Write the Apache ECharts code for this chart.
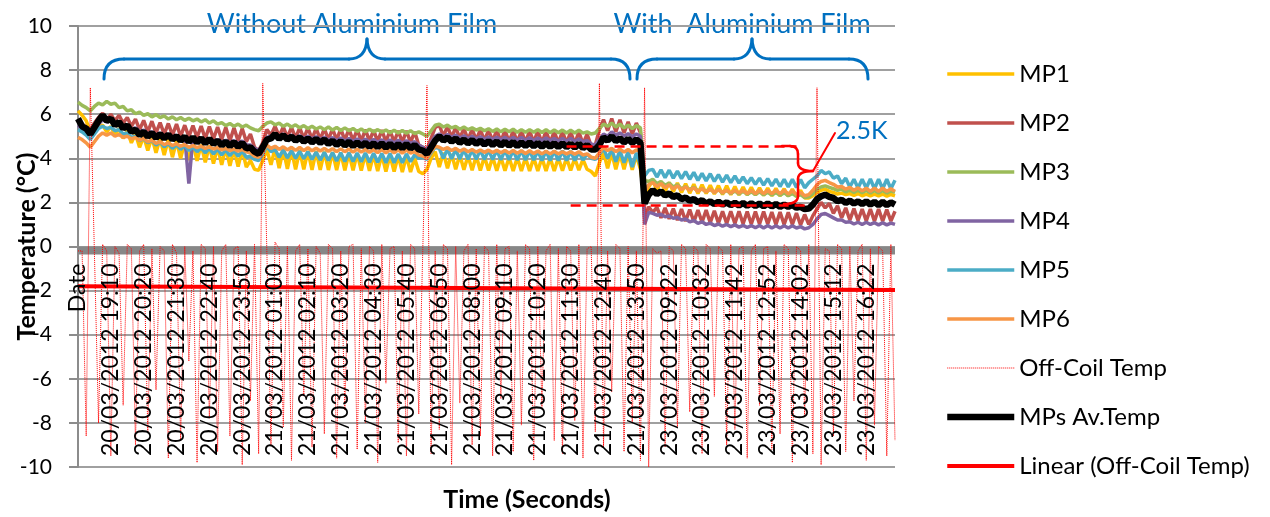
<!DOCTYPE html>
<html><head><meta charset="utf-8">
<script src="https://cdn.jsdelivr.net/npm/echarts@6/dist/echarts.min.js"></script>
<style>html,body{margin:0;padding:0;background:#fff}#c{width:1270px;height:517px}</style>
</head><body><div id="c"></div>
<script>
const tickLabels = ['Date','20/03/2012 19:10','20/03/2012 20:20','20/03/2012 21:30','20/03/2012 22:40','20/03/2012 23:50',
'21/03/2012 01:00','21/03/2012 02:10','21/03/2012 03:20','21/03/2012 04:30','21/03/2012 05:40','21/03/2012 06:50',
'21/03/2012 08:00','21/03/2012 09:10','21/03/2012 10:20','21/03/2012 11:30','21/03/2012 12:40','21/03/2012 13:50',
'23/03/2012 09:22','23/03/2012 10:32','23/03/2012 11:42','23/03/2012 12:52','23/03/2012 14:02','23/03/2012 15:12','23/03/2012 16:22'];
const labelEvery = 8;

const mp1 = [6.15,5.95,5.7,5.2,5.3,5.45,5.5,5.2,5.45,5.05,
5.35,4.9,5.25,4.7,5.1,4.5,5.0,4.35,4.95,4.25,
4.9,4.15,4.85,4.05,4.78,4.0,4.72,3.92,4.68,3.88,
4.62,3.82,4.58,3.76,4.52,3.7,4.48,3.66,4.42,3.62,
4.4,3.6,3.9,3.5,3.45,3.9,4.4,3.7,4.45,3.55,
4.4,3.52,4.38,3.5,4.36,3.5,4.34,3.48,4.32,3.48,
4.3,3.47,4.28,3.46,4.26,3.45,4.24,3.45,4.22,3.44,
4.2,3.43,4.18,3.42,4.16,3.4,4.14,3.4,4.12,3.38,
4.1,3.38,4.0,3.4,3.3,3.5,4.0,4.3,3.6,4.25,
3.55,4.2,3.5,4.15,3.48,4.12,3.46,4.1,3.45,4.08,
3.45,4.06,3.44,4.05,3.44,4.04,3.43,4.04,3.43,4.03,
3.42,4.03,3.42,4.02,3.42,4.02,3.42,4.02,3.44,4.02,
3.45,4.0,3.46,3.95,3.5,3.4,3.2,3.8,4.3,3.55,
4.25,3.5,4.22,3.5,4.2,3.48,4.15,3.5,2.2,2.7,
3.0,2.55,2.95,2.5,2.9,2.48,2.88,2.45,2.85,2.42,
2.82,2.4,2.8,2.4,2.78,2.38,2.76,2.36,2.75,2.35,
2.72,2.34,2.7,2.34,2.68,2.33,2.66,2.32,2.65,2.3,
2.64,2.3,2.62,2.28,2.6,2.26,2.55,2.2,2.2,2.3,
2.45,2.55,2.6,2.5,2.45,2.38,2.42,2.35,2.4,2.32,
2.4,2.3,2.38,2.3,2.38,2.3,2.38,2.28,2.36,2.3];

const mp2 = [5.7,5.55,5.4,5.3,5.6,5.85,6.05,5.75,6.0,5.7,
5.95,5.6,5.85,5.45,5.78,5.3,5.72,5.2,5.68,5.15,
5.62,5.1,5.58,5.05,5.55,5.0,5.5,4.98,5.48,4.95,
5.46,4.9,5.44,4.88,5.42,4.85,5.4,4.8,5.38,4.78,
5.35,4.75,5.1,4.5,4.35,4.7,5.3,5.05,5.45,5.0,
5.42,4.95,5.4,4.92,5.38,4.9,5.38,4.88,5.36,4.86,
5.35,4.85,5.34,4.84,5.33,4.82,5.32,4.8,5.3,4.78,
5.3,4.78,5.28,4.76,5.28,4.75,5.26,4.74,5.25,4.72,
5.25,4.72,5.2,4.6,4.5,4.4,4.9,5.4,5.5,5.0,
5.45,4.95,5.4,4.9,5.35,4.85,5.32,4.82,5.3,4.8,
5.28,4.78,5.28,4.76,5.27,4.75,5.26,4.74,5.25,4.72,
5.25,4.72,5.24,4.7,5.24,4.7,5.22,4.68,5.22,4.68,
5.2,4.66,5.2,4.65,5.1,4.55,4.6,5.3,5.75,5.25,
5.8,5.2,5.75,5.15,5.65,5.1,5.6,5.15,1.3,1.8,
1.55,1.78,1.3,1.75,1.25,1.72,1.2,1.7,1.15,1.68,
1.12,1.65,1.1,1.65,1.08,1.62,1.06,1.6,1.05,1.6,
1.04,1.6,1.03,1.58,1.02,1.58,1.02,1.58,1.02,1.56,
1.0,1.56,1.0,1.55,1.0,1.52,0.98,1.45,1.0,1.4,
1.7,2.0,1.75,1.95,1.5,1.85,1.3,1.75,1.2,1.72,
1.18,1.7,1.16,1.7,1.15,1.7,1.15,1.68,1.15,1.6];

const mp3 = [6.55,6.4,6.3,6.15,6.35,6.5,6.42,6.58,6.45,6.5,
6.3,6.35,6.15,6.2,6.02,6.1,5.95,6.02,5.88,5.98,
5.85,5.92,5.78,5.88,5.75,5.85,5.72,5.82,5.7,5.78,
5.65,5.75,5.6,5.7,5.55,5.62,5.48,5.58,5.45,5.55,
5.42,5.5,5.38,5.3,5.25,5.45,5.6,5.65,5.52,5.6,
5.45,5.55,5.42,5.52,5.38,5.48,5.35,5.45,5.33,5.42,
5.3,5.42,5.28,5.4,5.26,5.38,5.25,5.35,5.22,5.33,
5.2,5.32,5.2,5.3,5.18,5.28,5.16,5.27,5.15,5.26,
5.14,5.25,5.12,5.2,5.1,5.0,5.25,5.5,5.55,5.42,
5.5,5.38,5.45,5.32,5.42,5.3,5.38,5.28,5.36,5.25,
5.34,5.22,5.33,5.2,5.32,5.2,5.32,5.18,5.3,5.18,
5.3,5.18,5.3,5.17,5.3,5.16,5.28,5.16,5.28,5.15,
5.27,5.15,5.27,5.14,5.2,5.1,5.15,5.35,5.55,5.45,
5.6,5.42,5.55,5.38,5.5,5.35,5.48,5.38,3.0,2.95,
3.05,2.85,2.95,2.78,2.88,2.7,2.8,2.62,2.72,2.58,
2.68,2.52,2.62,2.48,2.6,2.45,2.58,2.42,2.55,2.4,
2.52,2.38,2.5,2.36,2.48,2.35,2.48,2.34,2.46,2.33,
2.45,2.32,2.44,2.3,2.4,2.28,2.35,2.22,2.25,2.4,
2.6,2.7,2.75,2.68,2.62,2.55,2.6,2.48,2.56,2.45,
2.55,2.44,2.55,2.43,2.54,2.42,2.54,2.42,2.52,2.45];

const mp4 = [5.5,5.35,5.2,5.1,5.3,5.55,5.75,5.65,5.7,5.55,
5.6,5.45,5.5,5.3,5.38,5.2,5.28,5.1,5.2,5.05,
5.15,5.0,5.1,4.95,5.05,4.9,4.98,2.85,4.95,4.85,
4.92,4.8,4.9,4.75,4.85,4.72,4.82,4.7,4.8,4.68,
4.78,4.62,4.6,4.45,4.35,4.6,4.95,5.0,5.1,4.98,
5.1,4.95,5.05,4.92,5.02,4.9,5.0,4.88,4.98,4.85,
4.96,4.82,4.94,4.8,4.92,4.78,4.9,4.76,4.88,4.75,
4.86,4.74,4.85,4.72,4.84,4.7,4.83,4.7,4.82,4.68,
4.8,4.68,4.75,4.6,4.5,4.4,4.7,5.0,5.1,4.98,
5.08,4.95,5.05,4.92,5.02,4.9,5.0,4.88,4.98,4.86,
4.97,4.85,4.96,4.84,4.95,4.83,4.95,4.82,4.94,4.82,
4.93,4.8,4.92,4.8,4.92,4.8,4.9,4.78,4.9,4.78,
4.9,4.76,4.88,4.75,4.8,4.65,4.6,4.85,5.1,5.0,
5.2,5.05,5.15,5.0,5.12,4.98,5.1,5.0,1.0,1.55,
1.5,1.42,1.45,1.35,1.38,1.28,1.32,1.2,1.25,1.12,
1.18,1.05,1.12,1.0,1.06,0.95,1.02,0.92,1.0,0.9,
0.98,0.88,0.96,0.86,0.95,0.85,0.95,0.84,0.95,0.84,
0.94,0.84,0.94,0.84,0.94,0.84,0.9,0.8,0.85,1.0,
1.25,1.45,1.5,1.4,1.3,1.2,1.2,1.1,1.12,1.02,
1.1,1.0,1.1,1.0,1.08,0.98,1.08,0.98,1.06,1.0];

const mp5 = [5.3,5.2,5.05,4.85,5.1,5.35,5.45,5.35,5.4,5.25,
5.3,5.1,5.15,4.95,5.0,4.8,4.9,4.7,4.82,4.6,
4.75,4.52,4.68,4.45,4.62,4.4,4.58,4.35,4.52,4.3,
4.48,4.25,4.45,4.2,4.42,4.15,4.38,4.12,4.35,4.1,
4.32,4.05,4.1,3.95,3.9,4.2,4.55,4.3,4.4,4.05,
4.38,4.02,4.35,4.0,4.32,3.98,4.3,3.95,4.28,3.92,
4.27,3.9,4.26,3.88,4.25,3.86,4.25,3.85,4.24,3.84,
4.24,3.82,4.23,3.82,4.22,3.8,4.22,3.8,4.2,3.8,
4.2,3.85,4.15,4.0,4.05,3.95,4.25,4.5,4.45,4.0,
4.42,3.98,4.4,3.96,4.4,3.95,4.38,3.95,4.38,3.94,
4.38,3.94,4.37,3.93,4.37,3.93,4.36,3.92,4.36,3.92,
4.35,3.92,4.35,3.9,4.35,3.9,4.34,3.9,4.34,3.9,
4.33,3.9,4.3,3.92,4.2,4.0,3.95,4.2,4.45,4.0,
4.4,3.85,4.35,3.8,4.3,3.6,4.25,3.7,3.2,3.45,
3.5,3.15,3.48,3.12,3.46,3.1,3.42,3.08,3.4,3.05,
3.36,3.0,3.32,2.98,3.3,2.95,3.26,2.92,3.24,2.9,
3.2,2.88,3.15,2.85,3.12,2.82,3.1,2.78,3.08,2.75,
3.06,2.72,3.05,2.7,3.05,2.68,3.04,2.66,2.9,3.05,
3.2,3.45,3.3,3.38,3.1,3.2,2.85,3.1,2.7,3.05,
2.65,3.05,2.65,3.06,2.62,3.05,2.62,3.05,2.62,3.0];

const mp6 = [4.95,4.85,4.7,4.5,4.75,5.0,5.15,5.05,5.15,5.0,
5.08,4.95,5.0,4.88,4.95,4.82,4.9,4.75,4.82,4.68,
4.75,4.62,4.7,4.58,4.66,4.55,4.62,4.5,4.58,4.48,
4.55,4.45,4.52,4.42,4.5,4.38,4.45,4.35,4.42,4.32,
4.4,4.3,4.25,4.1,4.05,4.3,4.6,4.45,4.55,4.4,
4.52,4.38,4.5,4.36,4.5,4.35,4.48,4.34,4.46,4.33,
4.45,4.32,4.44,4.3,4.43,4.3,4.42,4.28,4.42,4.28,
4.4,4.27,4.4,4.26,4.4,4.25,4.38,4.25,4.38,4.24,
4.37,4.24,4.3,4.15,4.1,4.0,4.3,4.55,4.5,4.4,
4.48,4.35,4.45,4.32,4.42,4.3,4.4,4.28,4.38,4.27,
4.37,4.26,4.36,4.25,4.35,4.24,4.35,4.23,4.34,4.22,
4.34,4.22,4.33,4.2,4.32,4.2,4.32,4.2,4.3,4.2,
4.3,4.18,4.3,4.15,4.2,4.05,4.0,4.25,4.5,4.35,
4.45,4.3,4.42,4.28,4.4,4.25,4.38,4.3,2.5,2.8,
2.9,2.72,2.85,2.68,2.8,2.62,2.75,2.58,2.7,2.55,
2.66,2.5,2.62,2.48,2.6,2.45,2.58,2.44,2.56,2.42,
2.56,2.42,2.55,2.4,2.55,2.4,2.55,2.4,2.54,2.4,
2.55,2.4,2.55,2.38,2.52,2.36,2.45,2.3,2.35,2.55,
2.8,2.95,3.0,2.9,2.82,2.7,2.72,2.6,2.68,2.55,
2.66,2.52,2.65,2.5,2.65,2.5,2.65,2.5,2.62,2.5];

const offCoil = [-0.2,-0.2,-8.6,7.2,-0.3,-8.0,0.1,-0.2,-9.5,0.0,
-0.3,-7.2,0.1,-0.1,-9.0,-0.2,0.1,-8.4,-0.1,-6.5,
0.0,-0.2,-9.6,0.1,-0.3,-8.8,0.0,-5.2,-0.2,-9.8,
0.1,-0.1,-7.8,0.0,-9.3,-0.2,0.1,-8.6,-0.1,0.0,
-9.9,-0.2,-7.0,0.1,-9.4,7.4,-0.2,-9.0,0.2,-0.1,
-8.2,0.0,-9.7,-0.2,0.1,-6.8,-0.1,-9.1,0.0,-0.3,
-8.5,0.1,-0.1,-9.6,-0.2,-7.4,0.0,0.1,-9.2,-0.1,
-8.0,0.0,-0.2,-9.8,0.1,-6.2,-0.1,0.0,-8.9,-0.2,
-9.5,0.1,-0.1,-7.6,0.0,7.3,-9.4,-0.2,-8.3,0.1,
-0.1,-9.9,0.0,-7.1,-0.2,0.1,-9.0,-0.1,-8.6,0.0,
-0.2,-9.5,0.1,-6.9,-0.1,0.0,-9.3,-0.2,-8.1,0.1,
-0.1,-9.7,0.0,-7.3,-0.2,0.1,-8.8,-0.1,-9.4,0.0,
-0.2,-7.9,0.1,-9.6,-0.1,0.0,-8.4,7.4,-9.1,-0.2,
-6.6,0.1,-0.1,-9.3,0.0,-8.0,-0.2,-9.7,7.2,-10.0,
-0.1,-0.3,-0.2,-9.1,0.0,-0.2,-8.2,0.1,-0.1,-7.5,
0.0,-0.2,-9.4,0.1,-0.1,-6.8,0.0,-0.2,-9.0,0.1,
-8.3,-0.1,0.0,-9.6,-0.2,0.1,-7.2,-0.1,0.0,-9.2,
-0.2,-8.5,0.1,-0.1,-9.8,0.0,-0.2,-7.7,0.1,-9.4,
7.2,-9.9,-0.1,-0.2,-8.6,0.1,-0.1,-9.3,0.0,-7.0,
-0.2,0.1,-9.7,-0.1,-8.1,0.0,-0.2,-9.5,0.1,-8.8];

const avgTemp = [5.8,5.45,5.35,5.1,5.4,5.7,5.95,5.7,5.8,5.5,
5.65,5.35,5.5,5.2,5.3,5.05,5.2,4.98,5.15,4.93,
5.1,4.9,5.08,4.85,5.0,4.8,4.98,4.75,4.95,4.72,
4.9,4.68,4.88,4.65,4.8,4.58,4.76,4.55,4.73,4.52,
4.7,4.45,4.5,4.3,4.2,4.5,4.85,4.9,5.1,4.88,
5.05,4.85,4.98,4.8,4.95,4.75,4.9,4.72,4.88,4.7,
4.85,4.65,4.8,4.6,4.78,4.58,4.75,4.55,4.72,4.55,
4.7,4.52,4.68,4.5,4.68,4.48,4.66,4.46,4.65,4.45,
4.65,4.45,4.6,4.4,4.35,4.2,4.5,4.8,5.0,4.8,
4.95,4.75,4.9,4.7,4.85,4.68,4.82,4.65,4.8,4.62,
4.78,4.6,4.76,4.58,4.75,4.57,4.74,4.55,4.72,4.55,
4.72,4.54,4.7,4.52,4.7,4.52,4.68,4.5,4.68,4.5,
4.66,4.48,4.66,4.46,4.6,4.4,4.4,4.6,4.95,4.8,
5.0,4.78,4.9,4.72,4.88,4.7,4.85,4.7,1.95,2.35,
2.55,2.38,2.5,2.32,2.4,2.25,2.32,2.15,2.22,2.08,
2.15,2.0,2.1,1.95,2.05,1.92,2.03,1.9,2.0,1.88,
1.98,1.86,1.97,1.85,1.96,1.84,1.95,1.83,1.95,1.82,
1.93,1.8,1.9,1.8,1.88,1.76,1.8,1.7,1.72,1.9,
2.15,2.28,2.35,2.25,2.2,2.05,2.12,1.98,2.08,1.95,
2.05,1.92,2.05,1.9,2.02,1.88,2.02,1.88,2.0,1.9];

const trendEnds = [[0, -1.8], [199, -1.97]];
const upperLevel = 4.53, lowerLevel = 1.89;

const categories = mp1.map((_, i) => i);
const FONT = 'Lato';

function line(name, data, color, width, extra) {
  return Object.assign({
    name, type: 'line', data, symbol: 'none', showSymbol: false,
    lineStyle: { color, width }, itemStyle: { color },
    emphasis: { disabled: true }, silent: true, animation: false
  }, extra || {});
}

// turn a simple "M x,y L x,y Q cx,cy x,y" outline into graphic line / bezierCurve pieces
function outline(d, stroke, lineWidth) {
  const tok = d.match(/[MLQ]|-?[\d.]+/g);
  const out = [];
  let i = 0, cx = 0, cy = 0, cmd = 'M';
  const num = () => parseFloat(tok[i++]);
  while (i < tok.length) {
    if (/[MLQ]/.test(tok[i])) cmd = tok[i++];
    if (cmd === 'M') { cx = num(); cy = num(); }
    else if (cmd === 'L') {
      const x = num(), y = num();
      out.push({ type: 'line', silent: true, z: 100, shape: { x1: cx, y1: cy, x2: x, y2: y }, style: { stroke, lineWidth, lineCap: 'round' } });
      cx = x; cy = y;
    } else if (cmd === 'Q') {
      const qx = num(), qy = num(), x = num(), y = num();
      out.push({ type: 'bezierCurve', silent: true, z: 100, shape: { x1: cx, y1: cy, x2: x, y2: y, cpx1: qx, cpy1: qy }, style: { stroke, lineWidth, fill: null, lineCap: 'round' } });
      cx = x; cy = y;
    }
  }
  return out;
}

const gridTop = 26, gridBottom = 50, plotHeight = 517 - gridTop - gridBottom;

const chart = echarts.init(document.getElementById('c'), null, { renderer: 'canvas' });
chart.setOption({
  animation: false,
  backgroundColor: '#ffffff',
  grid: { left: 78, right: 375, top: gridTop, bottom: gridBottom, containLabel: false, outerBoundsMode: 'none' },
  legend: {
    orient: 'vertical', left: 939, top: 57, itemWidth: 67, itemHeight: 14, itemGap: 25,
    itemStyle: { opacity: 0 },
    lineStyle: { width: 'inherit' },
    textStyle: { fontFamily: FONT, fontSize: 24, color: '#000', lineHeight: 24 },
    data: ['MP1','MP2','MP3','MP4','MP5','MP6','Off-Coil Temp','MPs Av.Temp','Linear (Off-Coil Temp)']
  },
  xAxis: {
    type: 'category', data: categories, boundaryGap: false, z: 10,
    position: 'bottom', offset: -plotHeight / 2,
    axisLine: { show: false, onZero: false },
    axisTick: { show: false },
    splitLine: { show: false },
    axisLabel: {
      interval: labelEvery - 1, rotate: 90, margin: 17, color: '#000',
      fontFamily: FONT, fontSize: 23,
      formatter: (v, idx) => tickLabels[Math.round(idx / labelEvery)] || ''
    }
  },
  yAxis: {
    type: 'value', min: -10, max: 10, interval: 2,
    name: 'Temperature (°C)', nameLocation: 'middle', nameRotate: 90, nameGap: 51, nameMoveOverlap: false,
    nameTextStyle: { fontFamily: FONT, fontSize: 25, fontWeight: 'bold', color: '#000', verticalAlign: 'middle' },
    axisLine: { show: true, lineStyle: { color: '#8c8c8c', width: 2 } },
    axisTick: { show: true, length: 9, lineStyle: { color: '#8c8c8c', width: 2 } },
    splitLine: { show: true, lineStyle: { color: '#a0a0a0', width: 2 } },
    axisLabel: { margin: 26, color: '#000', fontFamily: FONT, fontSize: 21 }
  },
  series: [
    line('MP1', mp1, '#FFC000', 3.5),
    line('MP2', mp2, '#C0504D', 3.5),
    line('MP3', mp3, '#9BBB59', 3.5),
    line('MP4', mp4, '#8064A2', 3.5),
    line('MP5', mp5, '#4BACC6', 3.5),
    line('MP6', mp6, '#F79646', 3.5),
    line('Off-Coil Temp', offCoil, '#FF0000', 1, { lineStyle: { color: '#FF0000', width: 1, type: 'dotted' } }),
    line('MPs Av.Temp', avgTemp, '#000000', 6.5, {
      markLine: {
        silent: true, symbol: ['none', 'none'], label: { show: false },
        lineStyle: { color: '#FF0000', width: 2.5, type: [10, 6] },
        data: [
          [{ coord: [119, upperLevel] }, { coord: [175, upperLevel] }],
          [{ coord: [120, lowerLevel] }, { coord: [177, lowerLevel] }]
        ]
      }
    }),
    line('Linear (Off-Coil Temp)', trendEnds, '#FF0000', 4),
    {
      name: 'axisband', type: 'line', data: [], z: 5, silent: true,
      markArea: { silent: true, itemStyle: { color: '#878787' }, data: [[{ yAxis: 0 }, { yAxis: -0.36 }]] }
    }
  ],
  graphic: [].concat(
    outline('M104,79 Q104,59 124,59 L349,59 Q366,59 367,39 Q368,59 385,59 L611,59 Q630,59 630,79', '#0070C0', 3),
    outline('M637,79 Q637,59 657,59 L734,59 Q751,59 752,39 Q753,59 770,59 L849,59 Q868,59 868,79', '#0070C0', 3),
    outline('M782,146 L790,146 Q798,146 798,154 L798,163 Q798,171 813,171 Q798,171 798,179 L798,196 Q798,204 784,204', '#FF0000', 2.5),
    outline('M813,171 L835,133', '#FF0000', 2),
    [
      { type: 'text', silent: true, x: 352, y: 24, style: { text: 'Without Aluminium Film', fill: '#0070C0', fontFamily: FONT, fontSize: 27, align: 'center', verticalAlign: 'middle' } },
      { type: 'text', silent: true, x: 742, y: 24, style: { text: 'With  Aluminium Film', fill: '#0070C0', fontFamily: FONT, fontSize: 27, align: 'center', verticalAlign: 'middle' } },
      { type: 'text', silent: true, x: 836, y: 131, style: { text: '2.5K', fill: '#0070C0', fontFamily: FONT, fontSize: 25, align: 'left', verticalAlign: 'middle' } },
      { type: 'text', silent: true, x: 527, y: 500, style: { text: 'Time (Seconds)', fill: '#000', fontFamily: FONT, fontSize: 25, fontWeight: 'bold', align: 'center', verticalAlign: 'middle' } }
    ]
  )
});
</script>
</body></html>
